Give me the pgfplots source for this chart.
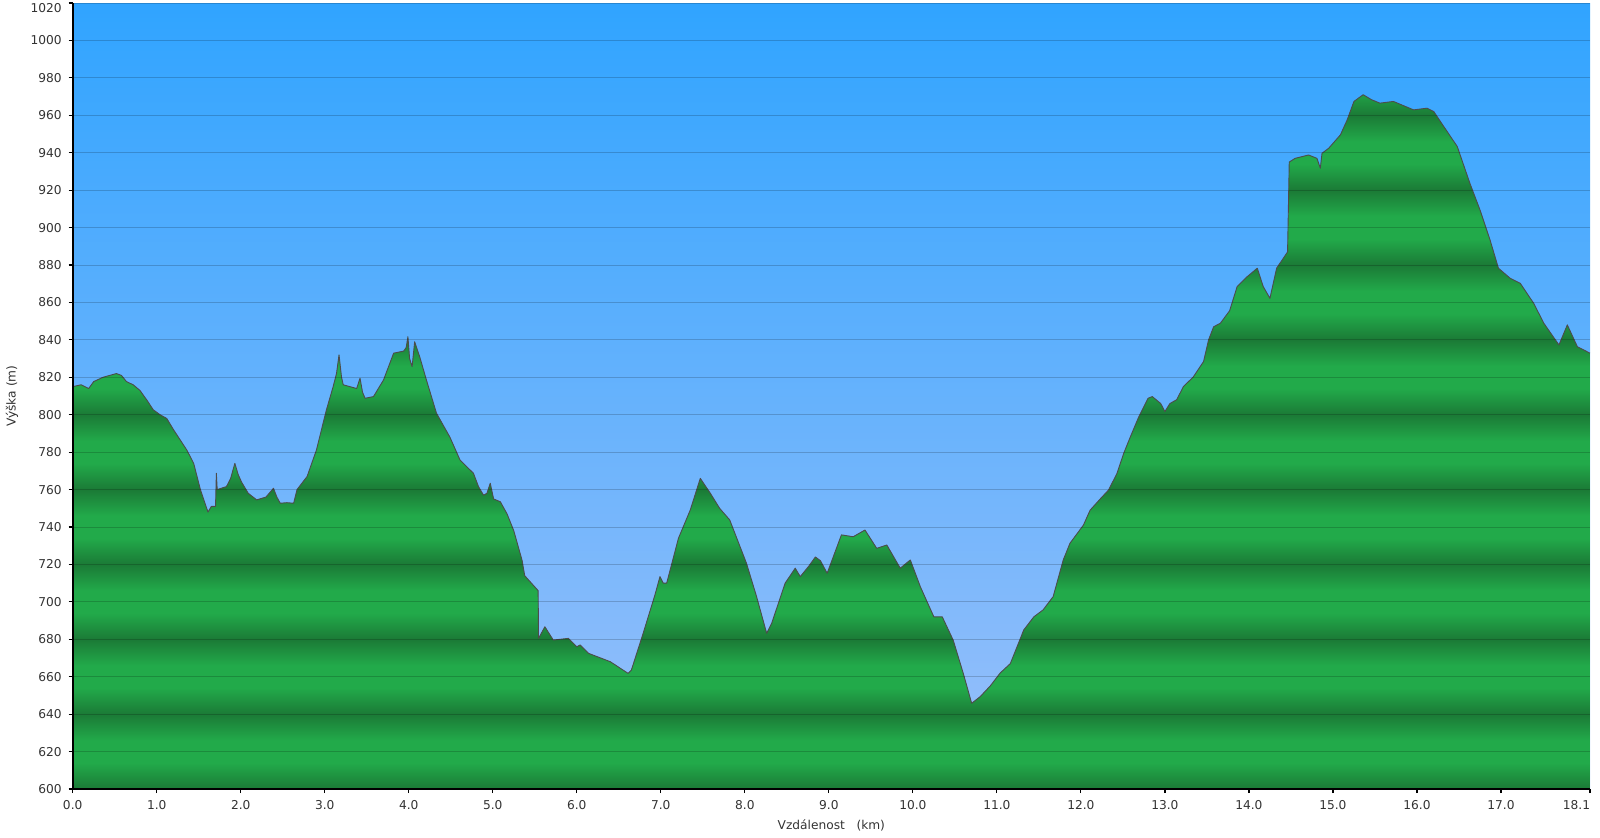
\documentclass[border=0pt]{standalone}
\usepackage{pgfplots}
\pgfplotsset{compat=1.18}
\usepackage{pgfplotstable}
\usepackage{fontspec}
\setmainfont{DejaVu Sans}
\definecolor{gdark}{RGB}{27,122,54}
\definecolor{glight}{RGB}{34,170,74}
\definecolor{skytop}{RGB}{48,164,255}
\definecolor{skybot}{RGB}{155,192,250}
\definecolor{txt}{RGB}{51,51,51}
% stripes: path bbox (600..971 m) is mapped to 25bp..75bp
\pgfdeclareverticalshading{stripes}{100bp}{%
color(0bp)=(gdark); color(25bp)=(gdark);
color(26.887bp)=(glight); color(28.504bp)=(glight); color(30.391bp)=(gdark);
color(32.278bp)=(glight); color(33.895bp)=(glight); color(35.782bp)=(gdark);
color(37.668bp)=(glight); color(39.286bp)=(glight); color(41.173bp)=(gdark);
color(43.059bp)=(glight); color(44.677bp)=(glight); color(46.563bp)=(gdark);
color(48.450bp)=(glight); color(50.067bp)=(glight); color(51.954bp)=(gdark);
color(53.841bp)=(glight); color(55.458bp)=(glight); color(57.345bp)=(gdark);
color(59.232bp)=(glight); color(60.849bp)=(glight); color(62.736bp)=(gdark);
color(64.623bp)=(glight); color(66.240bp)=(glight); color(68.127bp)=(gdark);
color(70.013bp)=(glight); color(71.631bp)=(glight); color(73.517bp)=(gdark);
color(75.404bp)=(glight); color(100bp)=(glight)}

\pgfplotstableread{
x y
0.00 815
0.10 816
0.19 814
0.25 817.7
0.36 820
0.52 822
0.58 821
0.64 817.7
0.72 816
0.80 813
0.88 808
0.96 802.6
1.04 800
1.12 798
1.20 792
1.28 786.5
1.36 781
1.44 774
1.52 760
1.61 748
1.65 751
1.70 751
1.71 768.7
1.72 760
1.83 761.6
1.88 766
1.93 774
1.97 768
2.01 764
2.09 758
2.19 754.5
2.30 756
2.39 760.7
2.43 756
2.47 752.7
2.55 753
2.63 752.7
2.67 760
2.79 767
2.90 781
3.02 802.6
3.10 815
3.14 822
3.17 832
3.20 820
3.22 816
3.30 815
3.38 814
3.42 819.5
3.45 812
3.48 808.8
3.58 809.7
3.70 818.6
3.82 832.9
3.94 834
3.97 836
3.99 841.7
4.01 830
4.04 825.7
4.07 839
4.13 831
4.21 818.6
4.33 800.8
4.49 788
4.61 775.8
4.77 768.7
4.83 761.6
4.89 757
4.93 758
4.97 763.4
5.01 755
5.09 753.5
5.17 747
5.25 738
5.35 722
5.38 714
5.50 708
5.54 706
5.545 680.5
5.62 686.7
5.72 679.6
5.80 680
5.90 680.5
6.00 676
6.04 677
6.14 672.5
6.40 668
6.61 661.8
6.65 663.6
6.79 683.2
6.93 703.7
6.99 713.5
7.03 710
7.07 710
7.21 734
7.35 749
7.47 766
7.59 758
7.70 750
7.82 743.8
8.02 720.6
8.14 702.8
8.26 683.2
8.32 688.6
8.48 710
8.60 718
8.66 713.5
8.76 719
8.84 724
8.90 722
8.98 715.3
9.15 735.8
9.29 734.8
9.43 738.4
9.57 728.6
9.69 730.4
9.85 718
9.97 722.4
10.09 708
10.25 692
10.35 692
10.48 679.6
10.60 661.8
10.70 645.8
10.80 649.3
10.92 655
11.04 662
11.16 667
11.32 685
11.44 692
11.55 695.7
11.67 702.8
11.79 722.4
11.87 731.3
12.03 741
12.11 749
12.23 755
12.33 759.8
12.43 768.7
12.51 779.4
12.59 788.3
12.69 799
12.80 808.8
12.85 809.7
12.95 806
13.00 801.7
13.06 806
13.14 808
13.22 815
13.34 820.3
13.46 828.4
13.52 840
13.58 847
13.66 848.9
13.77 855.5
13.86 868.5
13.98 873.8
14.10 878.3
14.17 868.5
14.25 862.2
14.33 878.3
14.46 887
14.48 935
14.55 937
14.71 938.8
14.81 937
14.85 931.7
14.87 939.7
14.95 942.4
15.09 949.6
15.17 957.6
15.25 967.4
15.36 971
15.46 968.3
15.56 966.5
15.72 967.4
15.96 962.9
16.12 963.8
16.20 962
16.36 951.3
16.48 943.3
16.63 923.7
16.75 909.5
16.87 893.4
16.97 878.3
17.11 872.9
17.23 870.2
17.39 859.5
17.51 848.9
17.69 837.3
17.79 848
17.91 836.3
18.06 832.9
}\profile

\begin{document}
\begin{tikzpicture}[font=\fontsize{6.1}{7.3}\selectfont]
\useasboundingbox (-36.35pt,-24pt) rectangle (763.65pt,394.5pt);
\begin{axis}[
  at={(0pt,0pt)}, anchor=south west,
  scale only axis, width=758.65pt, height=393pt,
  xmin=0, xmax=18.06, ymin=600, ymax=1020,
  axis lines*=left,
  axis line style={-, black, line width=1pt},
  axis on top,
  axis background/.style={top color=skytop, bottom color=skybot},
  ymajorgrids,
  major grid style={black, opacity=0.18, line width=0.5pt},
  tick align=outside,
  major tick length=2pt,
  tick style={black, line width=0.6pt},
  ytick={600,620,...,1020},
  yticklabels={600,620,640,660,680,700,720,740,760,780,800,820,840,860,880,900,920,940,960,980,1000,\raisebox{-2.6pt}[4.45pt][0pt]{1020}},
  xtick={0,1,2,3,4,5,6,7,8,9,10,11,12,13,14,15,16,17,18.06},
  xticklabels={0.0,1.0,2.0,3.0,4.0,5.0,6.0,7.0,8.0,9.0,10.0,11.0,12.0,13.0,14.0,15.0,16.0,17.0,\llap{18.1}},
  tick label style={text=txt},
  xlabel={Vzdálenost\ \ \ (km)},
  ylabel={Výška (m)},
  label style={text=txt},
  xlabel style={at={(axis description cs:0.5,0)}, anchor=center, yshift=-18pt},
  ylabel style={at={(axis description cs:-0.04,0.5)}, anchor=center},
]
\addplot[draw=none, shade, shading=stripes] table[x=x,y=y]{\profile}
  -- (axis cs:18.06,600) -- (axis cs:0,600) -- cycle;
\addplot[black!70, line width=0.45pt, line join=round] table[x=x,y=y]{\profile};
\end{axis}
\end{tikzpicture}
\end{document}
